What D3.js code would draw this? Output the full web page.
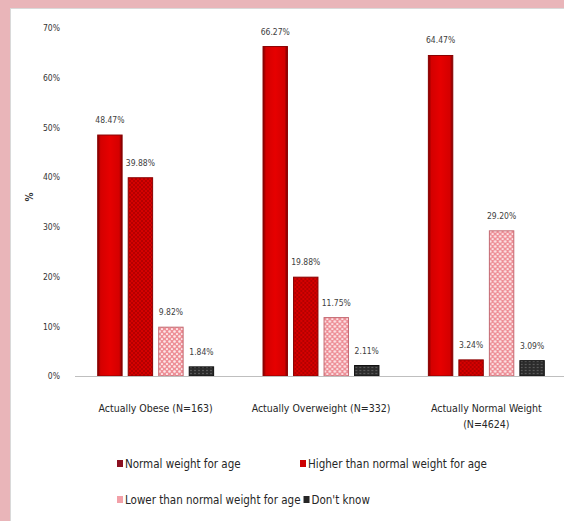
<!DOCTYPE html>
<html>
<head>
<meta charset="utf-8">
<script src="https://cdn.jsdelivr.net/npm/d3@7/dist/d3.min.js"></script>
<style>
  body { margin: 0; background: #e9b5b9; }
  svg text { font-family: "Liberation Sans Narrow", "DejaVu Sans Condensed", "Arial Narrow", sans-serif; }
</style>
</head>
<body>
<div id="canvas"></div>
<script>
var width = 564,
    height = 521;

// data
var categories = ["Actually Obese (N=163)", "Actually Overweight (N=332)", "Actually Normal Weight (N=4624)"];
var series = ["Normal weight for age", "Higher than normal weight for age", "Lower than normal weight for age", "Don't know"];
var normalWeight = [48.47, 66.27, 64.47];
var higherWeight = [39.88, 19.88, 3.24];
var lowerWeight = [9.82, 11.75, 29.20];
var dontKnow = [1.84, 2.11, 3.09];
var yTicks = [0, 10, 20, 30, 40, 50, 60, 70];

var values = [normalWeight, higherWeight, lowerWeight, dontKnow];

var svg = d3.select("#canvas").append("svg")
    .attr("width", width)
    .attr("height", height);

// pink frame + white panel
svg.append("rect")
    .attr("x", 0).attr("y", 0)
    .attr("width", width).attr("height", height)
    .attr("fill", "#e9b5b9");
svg.append("rect")
    .attr("x", 10.5).attr("y", 8.5)
    .attr("width", 560).attr("height", 520)
    .attr("fill", "#fff")
    .attr("stroke", "#d9d9d9");

var defs = svg.append("defs");

// bevel look for the solid red bars
var grad = defs.append("linearGradient").attr("id", "redBevel")
    .attr("x1", "0").attr("x2", "1").attr("y1", "0").attr("y2", "0");
grad.append("stop").attr("offset", "0").attr("stop-color", "#7a0000");
grad.append("stop").attr("offset", "0.12").attr("stop-color", "#d40000");
grad.append("stop").attr("offset", "0.5").attr("stop-color", "#e60000");
grad.append("stop").attr("offset", "0.88").attr("stop-color", "#d40000");
grad.append("stop").attr("offset", "1").attr("stop-color", "#7a0000");

// dotted red
var p2 = defs.append("pattern").attr("id", "dotRed")
    .attr("width", 4).attr("height", 4).attr("patternUnits", "userSpaceOnUse");
p2.append("rect").attr("width", 4).attr("height", 4).attr("fill", "#d60000");
p2.append("circle").attr("cx", 1).attr("cy", 1).attr("r", 0.8).attr("fill", "#8a0000");
p2.append("circle").attr("cx", 3).attr("cy", 3).attr("r", 0.8).attr("fill", "#8a0000");

// pink with white circles
var p3 = defs.append("pattern").attr("id", "dotPink")
    .attr("width", 5).attr("height", 5).attr("patternUnits", "userSpaceOnUse");
p3.append("rect").attr("width", 5).attr("height", 5).attr("fill", "#ee8f97");
p3.append("circle").attr("cx", 1.5).attr("cy", 1.5).attr("r", 1.3).attr("fill", "#fde8ea");
p3.append("circle").attr("cx", 4).attr("cy", 4).attr("r", 1.1).attr("fill", "#fde8ea");

// dark with light specks
var p4 = defs.append("pattern").attr("id", "dotDark")
    .attr("width", 4).attr("height", 3).attr("patternUnits", "userSpaceOnUse");
p4.append("rect").attr("width", 4).attr("height", 3).attr("fill", "#2b2b2b");
p4.append("circle").attr("cx", 2).attr("cy", 1.5).attr("r", 0.7).attr("fill", "#777");

var fills = ["url(#redBevel)", "url(#dotRed)", "url(#dotPink)", "url(#dotDark)"];
var strokes = ["#8a0000", "#8a0000", "#c46a72", "#111"];
var swatch = ["#8b1020", "#cc0000", "#f2a0a8", "#262626"];

var x0 = d3.scaleBand()
    .domain(categories)
    .range([73, 569]);

var x1 = d3.scaleBand()
    .domain(d3.range(series.length))
    .range([0, x0.bandwidth()])
    .paddingInner(0.2)
    .paddingOuter(0.81);

var y = d3.scaleLinear()
    .domain([0, 70])
    .range([376, 28]);

// y tick labels (no axis line)
var yAxis = d3.axisLeft(y)
    .tickValues(yTicks)
    .tickSize(0)
    .tickPadding(0)
    .tickFormat(function(d){ return d + "%"; });

var gy = svg.append("g")
    .attr("transform", "translate(60,0)")
    .call(yAxis);
gy.select(".domain").remove();
gy.selectAll("text")
    .attr("fill", "#333")
    .style("font-size", "8.5px");

svg.append("text")
    .attr("transform", "translate(33,197) rotate(-90)")
    .attr("text-anchor", "middle")
    .attr("fill", "#333")
    .style("font-size", "10px")
    .style("font-weight", "bold")
    .text("%");

// bars
var groups = svg.selectAll("g.group")
    .data(categories)
  .enter().append("g")
    .attr("class", "group")
    .attr("transform", function(d){ return "translate(" + x0(d) + ",0)"; });

groups.each(function(cat, ci) {
  var g = d3.select(this);
  var rows = values.map(function(v, si){ return {s: si, v: v[ci]}; });

  g.selectAll("rect")
      .data(rows)
    .enter().append("rect")
      .attr("x", function(d){ return x1(d.s); })
      .attr("y", function(d){ return y(d.v); })
      .attr("width", x1.bandwidth())
      .attr("height", function(d){ return y(0) - y(d.v); })
      .attr("fill", function(d){ return fills[d.s]; })
      .attr("stroke", function(d){ return strokes[d.s]; })
      .attr("stroke-width", 1);

  g.selectAll("text.val")
      .data(rows)
    .enter().append("text")
      .attr("class", "val")
      .attr("x", function(d){ return x1(d.s) + x1.bandwidth() / 2; })
      .attr("y", function(d){ return y(d.v) - 12; })
      .attr("text-anchor", "middle")
      .attr("fill", "#404040")
      .style("font-size", "8.5px")
      .text(function(d){ return d.v.toFixed(2) + "%"; });
});

// x axis line
svg.append("line")
    .attr("x1", 75).attr("x2", 564)
    .attr("y1", y(0) + 0.5).attr("y2", y(0) + 0.5)
    .attr("stroke", "#bfbfbf");

// category labels, wrapped
var catLabels = svg.selectAll("text.cat")
    .data(categories)
  .enter().append("text")
    .attr("class", "cat")
    .attr("text-anchor", "middle")
    .attr("fill", "#262626")
    .style("font-size", "10.5px")
    .attr("transform", function(d){ return "translate(" + (x0(d) + x0.bandwidth() / 2) + ",412)"; });

catLabels.each(function(d) {
  var t = d3.select(this);
  var words = d.split(" ");
  var line = [];
  var tspan = t.append("tspan").attr("x", 0).attr("dy", 0);
  words.forEach(function(w) {
    line.push(w);
    tspan.text(line.join(" "));
    if (tspan.node().getComputedTextLength() > 150 && line.length > 1) {
      line.pop();
      tspan.text(line.join(" "));
      line = [w];
      tspan = t.append("tspan").attr("x", 0).attr("dy", "1.55em").text(w);
    }
  });
});

// legend
var legendRows = [[0, 1], [2, 3]];
var legendY = [468, 504];
legendRows.forEach(function(row, ri) {
  var cx = 117;
  row.forEach(function(si, k) {
    if (k === 1) cx = Math.max(300, cx);
    svg.append("rect")
        .attr("x", cx).attr("y", legendY[ri] - 8)
        .attr("width", 6).attr("height", 7)
        .attr("fill", swatch[si]);
    var t = svg.append("text")
        .attr("x", cx + 8).attr("y", legendY[ri])
        .attr("fill", "#262626")
        .style("font-size", "11.5px")
        .text(series[si]);
    cx = cx + 8 + t.node().getComputedTextLength() + 3;
  });
});
</script>
</body>
</html>
